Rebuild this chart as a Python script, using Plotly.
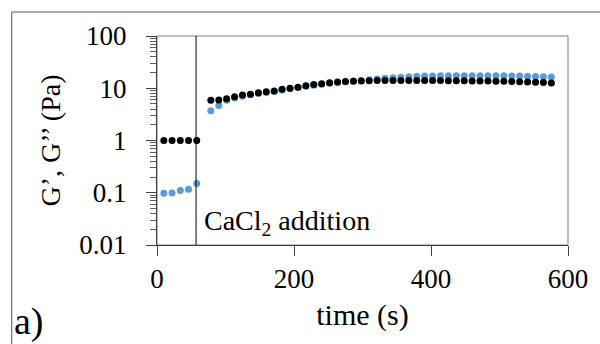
import plotly.graph_objects as go

# time (s)
time_s = [10, 22, 34, 46, 58,
          78.6, 90.2, 101.7, 113.3, 124.8, 136.4, 148.0, 159.5, 171.1, 182.6,
          194.2, 205.8, 217.3, 228.9, 240.4, 252.0, 263.6, 275.1, 286.7, 298.2,
          309.8, 321.4, 332.9, 344.5, 356.0, 367.6, 379.2, 390.7, 402.3, 413.8,
          425.4, 437.0, 448.5, 460.1, 471.6, 483.2, 494.8, 506.3, 517.9, 529.4,
          541.0, 552.6, 564.1, 575.7]

# G' (Pa) - black
g_prime = [1.0, 1.0, 1.0, 1.0, 1.0,
           5.9, 5.95, 6.3, 6.9, 7.4, 7.7, 8.2, 8.6, 8.9, 9.6,
           10.0, 10.5, 11.2, 11.8, 12.2, 12.8, 13.1, 13.4, 13.6, 13.8,
           13.9, 14.0, 14.0, 14.1, 14.1, 14.1, 14.1, 14.0, 14.0, 14.0,
           13.9, 13.9, 13.9, 13.8, 13.8, 13.7, 13.6, 13.6, 13.4, 13.3,
           13.2, 13.0, 12.9, 12.6]

# G'' (Pa) - blue
g_double = [0.098, 0.099, 0.11, 0.117, 0.15,
            3.7, 4.7, 5.9, 6.5, 7.0, 7.5, 7.9, 8.3, 8.7, 9.3,
            9.8, 10.3, 10.9, 11.4, 11.9, 12.4, 12.9, 13.3, 13.7, 14.1,
            14.6, 15.1, 15.5, 15.9, 16.3, 16.6, 16.9, 17.1, 17.2, 17.3,
            17.4, 17.4, 17.4, 17.4, 17.4, 17.3, 17.3, 17.3, 17.2, 17.1,
            17.0, 16.8, 16.6, 16.4]

addition_time = 57
x_ticks = [0, 200, 400, 600]
y_tickvals = [0.01, 0.1, 1, 10, 100]
y_ticktext = ["0.01", "0.1", "1", "10", "100"]

FONT = "Liberation Serif"

fig = go.Figure()
fig.add_trace(go.Scatter(x=time_s, y=g_double, mode="markers",
                         marker=dict(color="#5B9BD5", size=7), name="G''"))
fig.add_trace(go.Scatter(x=time_s, y=g_prime, mode="markers",
                         marker=dict(color="#000000", size=7), name="G'"))

# vertical line at CaCl2 addition
fig.add_shape(type="line", xref="x", yref="paper", x0=addition_time, x1=addition_time,
              y0=0, y1=1, line=dict(color="#000000", width=1))
# plot-area frame
fig.add_shape(type="rect", xref="paper", yref="paper", x0=0, x1=1, y0=0, y1=1,
              line=dict(color="#7f7f7f", width=1), layer="below")
# outer border (top and left edges visible in the picture)
fig.add_shape(type="line", xref="paper", yref="paper", x0=-0.3534, x1=1.2,
              y0=1.1148, y1=1.1148, line=dict(color="#555555", width=1))
fig.add_shape(type="line", xref="paper", yref="paper", x0=-0.3534, x1=-0.3534,
              y0=1.1148, y1=-0.6, line=dict(color="#555555", width=1))

fig.add_annotation(xref="x", yref="paper", x=65, y=0.11, xanchor="left", yanchor="middle",
                   text="CaCl<sub>2</sub> addition", showarrow=False,
                   font=dict(family=FONT, size=28, color="#000000"))
fig.add_annotation(xref="paper", yref="paper", x=-0.352, y=-0.365, xanchor="left", yanchor="middle",
                   text="a)", showarrow=False,
                   font=dict(family=FONT, size=38, color="#000000"))

fig.update_layout(
    width=600, height=344,
    margin=dict(l=157, r=27, t=36, b=99),
    paper_bgcolor="white", plot_bgcolor="white",
    showlegend=False,
    font=dict(family=FONT, size=27, color="#000000"),
    xaxis=dict(range=[0, 600], tickvals=x_ticks, ticks="outside", ticklen=10,
               tickcolor="#404040", showline=True, linecolor="#404040", linewidth=1,
               showgrid=False, zeroline=False,
               tickfont=dict(family=FONT, size=27, color="#000000"),
               title=dict(text="time (s)", standoff=10,
                          font=dict(family=FONT, size=30, color="#000000"))),
    yaxis=dict(type="log", range=[-2, 2], tickvals=y_tickvals, ticktext=y_ticktext,
               ticks="outside", ticklen=10, tickcolor="#404040",
               showline=True, linecolor="#404040", linewidth=1,
               showgrid=False, zeroline=False, ticklabelstandoff=14,
               minor=dict(ticks="outside", ticklen=6, tickcolor="#606060", dtick="D1",
                          showgrid=False),
               tickfont=dict(family=FONT, size=27, color="#000000"),
               title=dict(text="G’, G’’ (Pa)", standoff=10,
                          font=dict(family=FONT, size=28, color="#000000"))),
)

fig.write_html("out.html")
